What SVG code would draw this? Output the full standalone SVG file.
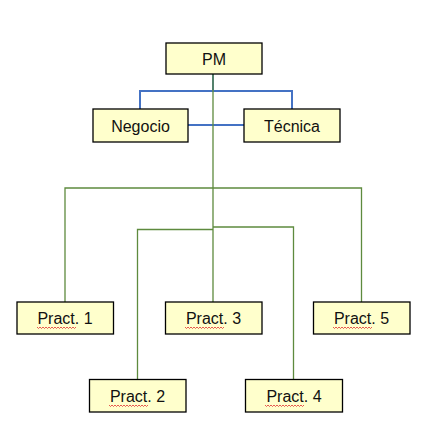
<svg xmlns="http://www.w3.org/2000/svg" width="433" height="433" viewBox="0 0 433 433">
<style>
.box{fill:#FFFFCC;stroke:#000;stroke-width:1.3}
.t{font-family:"Liberation Sans",Arial,sans-serif;font-size:16px;fill:#111;text-anchor:middle}
.blue{stroke:#4472C4;stroke-width:2;fill:none}
.green{stroke:#5E8A3E;stroke-width:1.3;fill:none}
.sq{stroke:#E03030;stroke-width:0.8;fill:none}
</style>
<defs>
<path id="squig" class="sq" d="M0,0 l1.5,1.5 l1.5,-1.5 l1.5,1.5 l1.5,-1.5 l1.5,1.5 l1.5,-1.5 l1.5,1.5 l1.5,-1.5 l1.5,1.5 l1.5,-1.5 l1.5,1.5 l1.5,-1.5 l1.5,1.5 l1.5,-1.5 l1.5,1.5 l1.5,-1.5 l1.5,1.5 l1.5,-1.5 l1.5,1.5 l1.5,-1.5 l1.5,1.5 l1.5,-1.5 l1.5,1.5 l1.5,-1.5 l1.5,1.5 l1.5,-1.5"/>
</defs>
<rect width="433" height="433" fill="#fff"/>
<g id="connectors">
<path class="blue" d="M213,74 V91 M140,109 V91 H292 V109 M188,125 H244"/>
<path class="green" d="M213,74 V303 M65,302 V188 H361.5 V302 M137.5,379 V229.5 H213 M213,227 H293.5 V379"/>
</g>
<g id="pm"><rect class="box" x="166" y="43" width="96" height="31"/><text class="t" x="214" y="65">PM</text></g>
<g id="negocio"><rect class="box" x="93" y="109" width="95" height="33"/><text class="t" x="140.5" y="132">Negocio</text></g>
<g id="tecnica"><rect class="box" x="244" y="109" width="96" height="33"/><text class="t" x="292" y="132">Técnica</text></g>
<g id="pract1"><rect class="box" x="17" y="302" width="96.5" height="32"/><text class="t" x="65" y="324">Pract. 1</text><use href="#squig" x="37" y="327"/></g>
<g id="pract3"><rect class="box" x="165.5" y="302" width="96.5" height="32"/><text class="t" x="213.5" y="324">Pract. 3</text><use href="#squig" x="185" y="327"/></g>
<g id="pract5"><rect class="box" x="313.5" y="302" width="96.5" height="32"/><text class="t" x="361.5" y="324">Pract. 5</text><use href="#squig" x="333" y="327"/></g>
<g id="pract2"><rect class="box" x="89.5" y="379.5" width="96.5" height="32.5"/><text class="t" x="137.5" y="402">Pract. 2</text><use href="#squig" x="109" y="405"/></g>
<g id="pract4"><rect class="box" x="245.5" y="379.5" width="97" height="32.5"/><text class="t" x="294" y="402">Pract. 4</text><use href="#squig" x="265" y="405"/></g>
</svg>
